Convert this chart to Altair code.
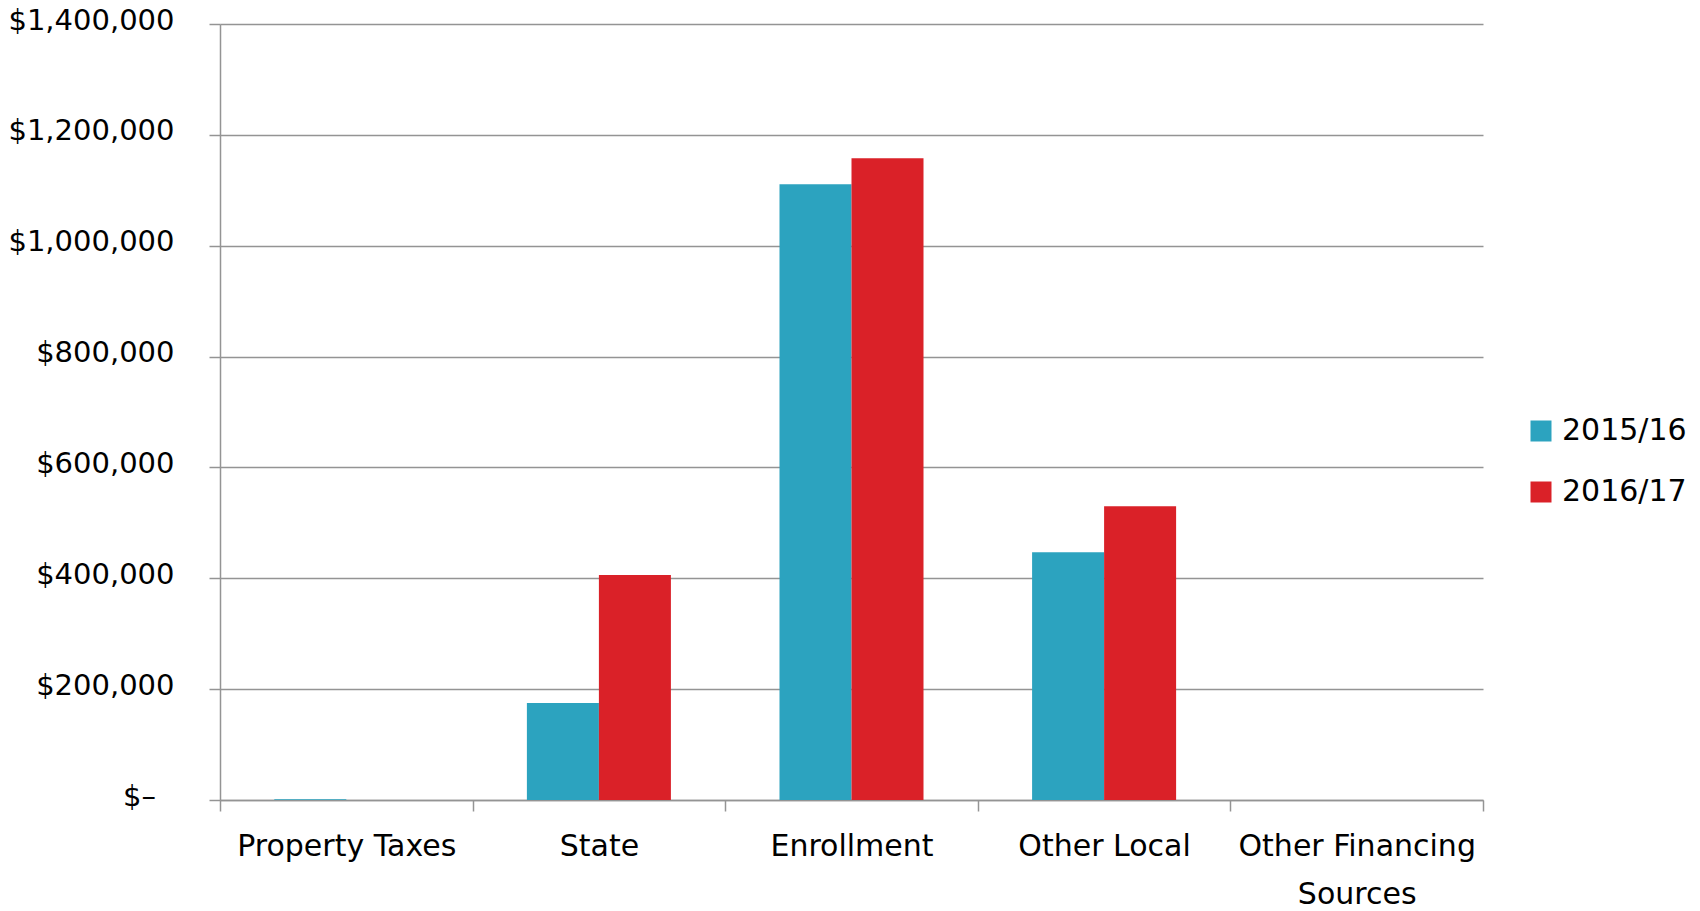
import altair as alt
import pandas as pd

categories = ["Property Taxes", "State", "Enrollment", "Other Local", "Other Financing Sources"]
years = ["2015/16", "2016/17"]
values_2015 = [1500, 175000, 1111000, 447000, 0]
values_2016 = [0, 406000, 1158000, 530000, 0]
y_ticks = [0, 200000, 400000, 600000, 800000, 1000000, 1200000, 1400000]
colors = ["#2CA3BF", "#DA2128"]

rows = []
for c, a, b in zip(categories, values_2015, values_2016):
    rows.append({"category": c, "year": years[0], "value": a})
    rows.append({"category": c, "year": years[1], "value": b})
df = pd.DataFrame(rows)

FONT = "DejaVu Sans"

label_y = ("datum.value == 0 ? '$\u2013\u2007\u200b' : '$' + format(datum.value, ',')")
label_x = ("datum.value == 'Other Financing Sources' ? ['Other Financing', 'Sources'] : datum.value")

chart = alt.Chart(df).mark_bar().encode(
    x=alt.X("category:N", sort=categories, title=None,
            scale=alt.Scale(paddingInner=0, paddingOuter=0),
            axis=alt.Axis(labelAngle=0, tickBand="extent", labelExpr=label_x,
                          labelFont=FONT, labelFontSize=30, labelColor="#000000",
                          labelPadding=20, labelLineHeight=48, labelBaseline="top",
                          labelLimit=0, labelOverlap=False,
                          tickSize=11, tickColor="#949494", tickWidth=1.5,
                          domainColor="#949494", domainWidth=1.5, grid=False)),
    xOffset=alt.XOffset("year:N", sort=years,
                        scale=alt.Scale(paddingOuter=0.754, paddingInner=0)),
    y=alt.Y("value:Q", title=None,
            scale=alt.Scale(domain=[0, 1400000], nice=False),
            axis=alt.Axis(values=y_ticks, labelExpr=label_y,
                          labelFont=FONT, labelFontSize=29, labelColor="#000000",
                          labelPadding=35, labelOffset=-4, labelLimit=0,
                          tickSize=11, tickColor="#949494", tickWidth=1.5,
                          domainColor="#949494", domainWidth=1.5,
                          gridColor="#949494", gridWidth=1.5)),
    color=alt.Color("year:N", sort=years, title=None,
                    scale=alt.Scale(domain=years, range=colors),
                    legend=alt.Legend(orient="none", legendX=1306, legendY=392,
                                      symbolType="square", symbolSize=441,
                                      symbolStrokeWidth=0, symbolOpacity=1,
                                      labelFont=FONT, labelFontSize=30,
                                      labelColor="#000000", labelOffset=6,
                                      rowPadding=31)),
).properties(
    width=1263, height=776,
    background="white",
    autosize=alt.AutoSizeParams(type="none"),
    padding={"left": 220, "top": 24, "right": 217, "bottom": 111},
).configure_view(stroke=None, strokeWidth=0)

chart.save("out.html", embed_options={"renderer": "svg", "actions": False})
